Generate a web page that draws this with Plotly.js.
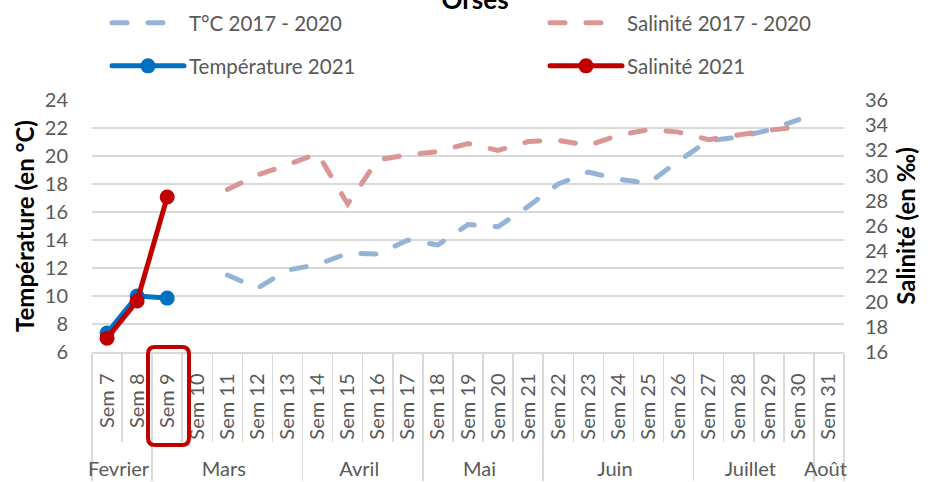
<!DOCTYPE html>
<html><head><meta charset="utf-8">
<script src="https://cdn.plot.ly/plotly-3.0.1.min.js"></script>
<style>body{margin:0;background:#fff}.js-line{stroke-linecap:round}</style>
</head><body><div id="chart" style="width:940px;height:482px"></div>
<script>
const months = ["Fevrier","Fevrier","Mars","Mars","Mars","Mars","Mars","Avril","Avril","Avril","Avril","Mai","Mai","Mai","Mai","Juin","Juin","Juin","Juin","Juin","Juillet","Juillet","Juillet","Juillet","Août"];
const weeks = ["Sem 7","Sem 8","Sem 9","Sem 10","Sem 11","Sem 12","Sem 13","Sem 14","Sem 15","Sem 16","Sem 17","Sem 18","Sem 19","Sem 20","Sem 21","Sem 22","Sem 23","Sem 24","Sem 25","Sem 26","Sem 27","Sem 28","Sem 29","Sem 30","Sem 31"];
const tempHist = [null,null,null,null,11.5,10.55,11.85,12.25,13.05,13.0,14.0,13.65,15.1,14.95,16.4,18.0,18.85,18.35,18.05,19.65,21.1,21.35,21.85,22.6,null];
const salHist = [null,null,null,null,28.9,30.05,30.85,31.75,27.75,31.25,31.65,31.9,32.55,32.0,32.7,32.8,32.4,33.2,33.65,33.45,32.85,33.25,33.6,33.85,null];
const temp2021 = [7.35,10.0,9.85,null,null,null,null,null,null,null,null,null,null,null,null,null,null,null,null,null,null,null,null,null,null];
const sal2021 = [17.1,20.05,28.3,null,null,null,null,null,null,null,null,null,null,null,null,null,null,null,null,null,null,null,null,null,null];

// leading no-break spaces only reserve room below the rotated week labels,
// so that the month row sits at the bottom like in the original chart
const weekCats = weeks.map(w => '\u00A0\u00A0' + w);
const X = [months, weekCats];
const traces = [
  {name:'T°C 2017 - 2020', x:X, y:tempHist, yaxis:'y', mode:'lines', legend:'legend',
   line:{color:'#95B3D7', width:5, dash:'15px,21px'}},
  {name:'Salinité 2017 - 2020', x:X, y:salHist, yaxis:'y2', mode:'lines', legend:'legend2',
   line:{color:'#DA9694', width:5, dash:'15px,21px'}},
  {name:'Température 2021', x:X, y:temp2021, yaxis:'y', mode:'lines+markers', legend:'legend3',
   line:{color:'#0070C0', width:5}, marker:{color:'#0070C0', size:15}},
  {name:'Salinité 2021', x:X, y:sal2021, yaxis:'y2', mode:'lines+markers', legend:'legend4',
   line:{color:'#C00000', width:5}, marker:{color:'#C00000', size:15}}
];

const W = 940, H = 482, L = 92, R = 96, T = 100, B = 130;
const pw = W - L - R, ph = H - T - B;
const px = v => (v - L) / pw, py = v => (H - B - v) / ph;
function roundRect(x0, y0, x1, y1, r) {
  const p = (x, y) => px(x).toFixed(5) + ',' + py(y).toFixed(5);
  return 'M' + p(x0 + r, y0) + ' L' + p(x1 - r, y0) + ' Q' + p(x1, y0) + ' ' + p(x1, y0 + r) +
    ' L' + p(x1, y1 - r) + ' Q' + p(x1, y1) + ' ' + p(x1 - r, y1) +
    ' L' + p(x0 + r, y1) + ' Q' + p(x0, y1) + ' ' + p(x0, y1 - r) +
    ' L' + p(x0, y0 + r) + ' Q' + p(x0, y0) + ' ' + p(x0 + r, y0) + ' Z';
}

const fam = 'Lato, "Noto Sans", sans-serif';
function leg(xpx, ypx) {
  return {orientation:'h', xref:'container', yref:'container', x:xpx / W, xanchor:'left',
    y:1 - ypx / H, yanchor:'middle', itemwidth:72,
    font:{family:fam, size:20.5, color:'#595959'}, bgcolor:'rgba(0,0,0,0)'};
}

const layout = {
  width:W, height:H, margin:{l:L, r:R, t:T, b:B, pad:0},
  paper_bgcolor:'white', plot_bgcolor:'white',
  font:{family:fam, size:20, color:'#595959'},
  showlegend:true,
  title:{text:'<b>Orses</b>', xref:'container', x:475 / W, xanchor:'center', yref:'container', y:1, yanchor:'middle',
    font:{family:fam, size:26, color:'#000'}},
  legend:leg(107, 23), legend2:leg(545, 23), legend3:leg(107, 66), legend4:leg(545, 66),
  xaxis:{type:'multicategory', range:[-0.5, 24.5], tickangle:-90, ticks:'outside', ticklen:88, tickcolor:'#D9D9D9', tickwidth:1.5,
    showgrid:false, showline:true, linecolor:'#D9D9D9', linewidth:1.5, ticklabelstandoff:12,
    showdividers:true, dividercolor:'#D9D9D9', dividerwidth:1.5,
    tickfont:{family:fam, size:20, color:'#595959'}},
  yaxis:{range:[6,24], dtick:2, showgrid:true, gridcolor:'#D9D9D9', gridwidth:1.5, zeroline:false,
    showline:false, ticks:'outside', ticklen:19, tickcolor:'rgba(0,0,0,0)',
    title:{text:'<b>Température (en °C)</b>', font:{family:fam, size:24, color:'#000'}}},
  yaxis2:{range:[16,36], dtick:2, overlaying:'y', side:'right', showgrid:false, zeroline:false,
    showline:false, ticks:'outside', ticklen:16, tickcolor:'rgba(0,0,0,0)',
    title:{text:'<b>Salinité (en ‰)</b>', font:{family:fam, size:24, color:'#000'}}},
  shapes:[{type:'path', xref:'paper', yref:'paper', path:roundRect(148, 347, 189, 445, 7),
    line:{color:'#C00000', width:4}, fillcolor:'rgba(0,0,0,0)', layer:'above'}]
};

Plotly.newPlot('chart', traces, layout, {displayModeBar:false, staticPlot:true});
</script></body></html>
